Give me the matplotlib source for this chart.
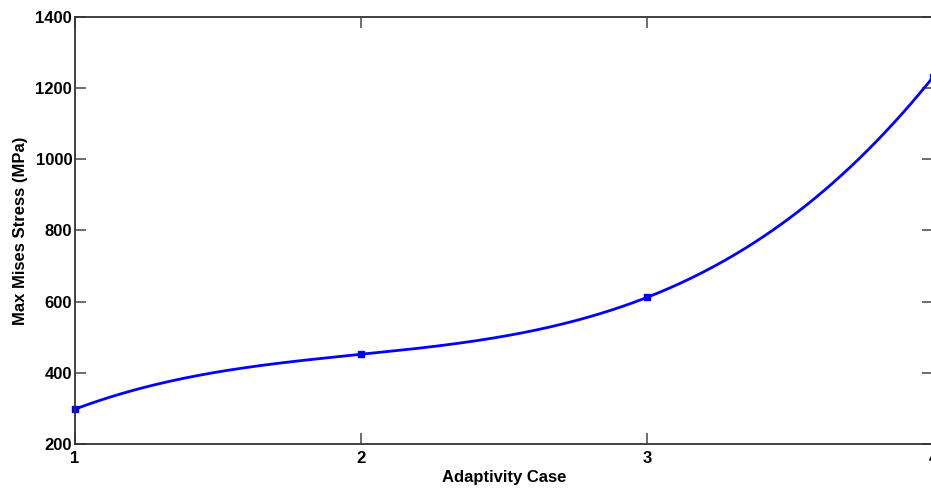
import numpy as np
import matplotlib
matplotlib.use("Agg")
import matplotlib.pyplot as plt

cases = [1, 2, 3, 4]
stress = [298, 452, 612, 1231]
xticks = [1, 2, 3, 4]
yticks = [200, 400, 600, 800, 1000, 1200, 1400]

plt.rcParams['font.family'] = ['Liberation Sans', 'DejaVu Sans']
plt.rcParams['font.weight'] = 'bold'

fig = plt.figure(figsize=(9.31, 4.88), dpi=100)
ax = fig.add_axes([75/931, 1 - 444/488, (933-75)/931, (444-17)/488])

# smooth interpolating cubic (as MATLAB spline with 4 points)
coef = np.polyfit(cases, stress, 3)
xs = np.linspace(cases[0], cases[-1], 300)
ax.plot(xs, np.polyval(coef, xs), color='#0000ff', lw=2)
ax.plot(cases, stress, 's', color='#0000ff', ms=5, clip_on=False)

ax.set_xlim(1, 4)
ax.set_ylim(200, 1400)
ax.set_xticks(xticks)
ax.set_yticks(yticks)
ax.tick_params(direction='in', length=8, width=1.2, top=True, right=True,
               labelsize=12, pad=2, color='#555555')
ax.tick_params(axis='x', pad=5)
for lab in ax.get_xticklabels() + ax.get_yticklabels():
    lab.set_fontweight('bold')
for s in ax.spines.values():
    s.set_color('#333333')
    s.set_linewidth(1.3)
ax.set_xlabel('Adaptivity Case', fontsize=12, fontweight='bold', labelpad=3)
ax.set_ylabel('Max Mises Stress (MPa)', fontsize=12, fontweight='bold', labelpad=8)
ax.yaxis.set_label_coords(-47/858, 0.5)

fig.savefig('out.png', dpi=100)
